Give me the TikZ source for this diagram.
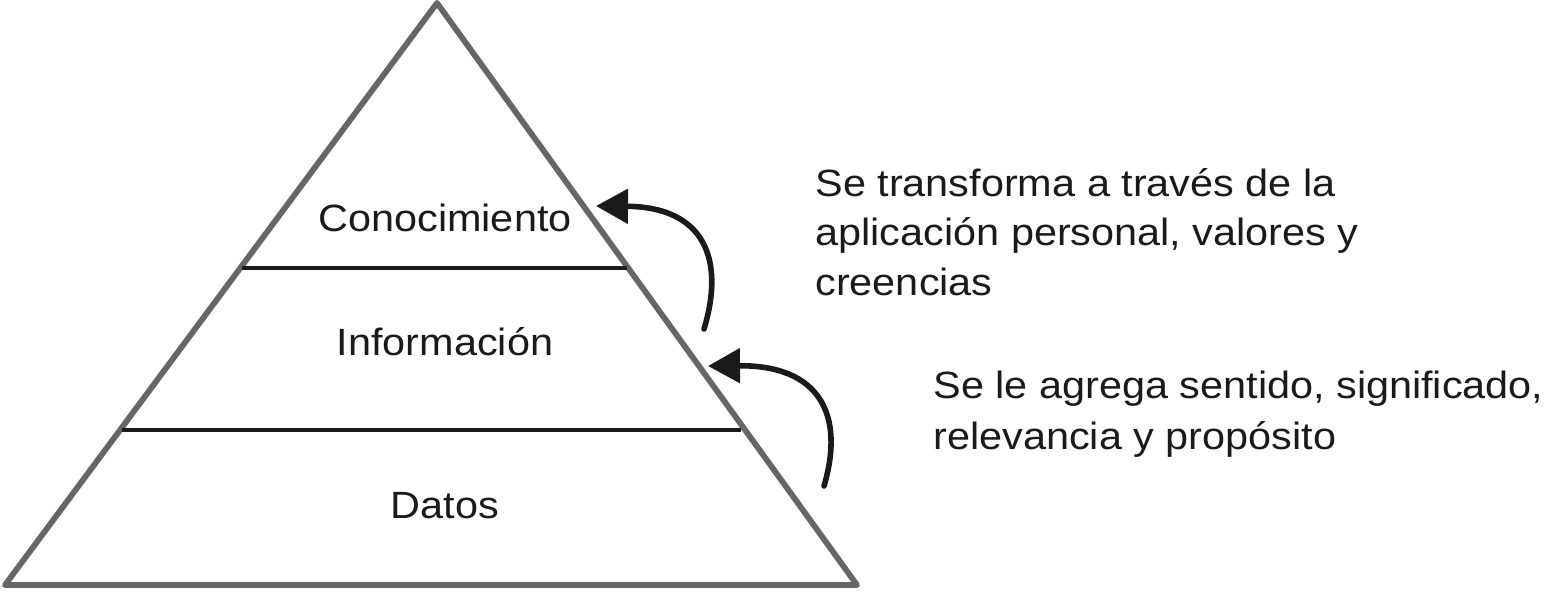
\documentclass[tikz,border=0pt]{standalone}
\usepackage{fontspec}
\setmainfont[FakeStretch=1.09]{Liberation Sans}
\usetikzlibrary{arrows.meta}
\definecolor{tri}{HTML}{666666}
\definecolor{ink}{HTML}{1A1A1A}
\begin{document}
\begin{tikzpicture}[x=0.5pt,y=-0.5pt,
  lbl/.style={font=\fontsize{19}{23}\selectfont, text=ink, inner sep=0pt, anchor=base},
  side/.style={lbl, anchor=base west},
  arr/.style={draw=ink, line width=2.8pt, line cap=round, -{Triangle[length=16pt,width=17pt]}}]
\useasboundingbox (0,0) rectangle (1546,591);
\coordinate (A) at (437,3);
\coordinate (L) at (5,585);
\coordinate (R) at (857,585);
\draw[tri, line width=2.9pt, line join=round] (A) -- (L) -- (R) -- cycle;
\coordinate (h1l) at (242,268); \coordinate (h1r) at (627,268);
\coordinate (h2l) at (122,430); \coordinate (h2r) at (741,430);
\draw[ink, line width=1.6pt] (h1l) -- (h1r);
\draw[ink, line width=1.6pt] (h2l) -- (h2r);
\node[lbl] (k) at (445,231) {Conocimiento};
\node[lbl] (i) at (445,355) {Información};
\node[lbl] (d) at (445,518) {Datos};
\node[side] (t1a) at (815,196) {Se transforma a través de la};
\node[side] (t1b) at (815,245) {aplicación personal, valores y};
\node[side] (t1c) at (815,295) {creencias};
\node[side] (t2a) at (933,398) {Se le agrega sentido, significado,};
\node[side] (t2b) at (933,449) {relevancia y propósito};
\coordinate (a1s) at (704,329); \coordinate (a1e) at (596,206);
\coordinate (a2s) at (824,486); \coordinate (a2e) at (708,366);
\draw[arr] (a1s) .. controls (725,260) and (705,207) .. (a1e);
\draw[arr] (a2s) .. controls (845,415) and (820,365) .. (a2e);
\end{tikzpicture}
\end{document}
